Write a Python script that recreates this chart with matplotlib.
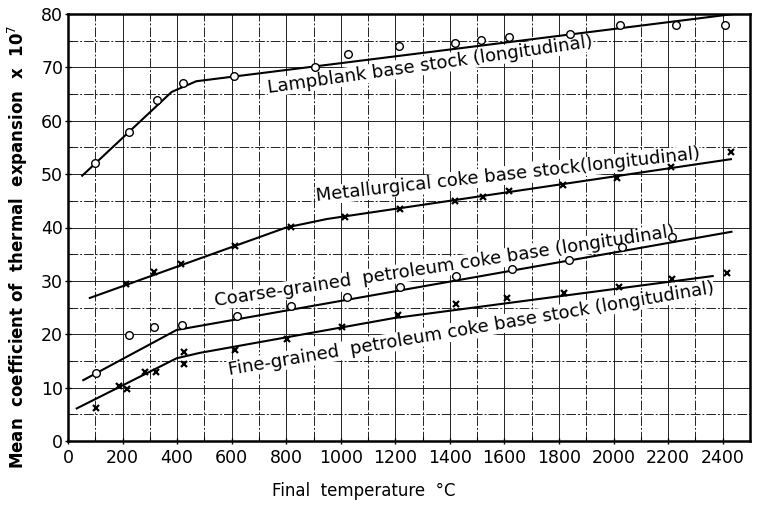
import numpy as np
import matplotlib
matplotlib.use('Agg')
import matplotlib.pyplot as plt
from matplotlib.ticker import MultipleLocator

# Lampblank base stock (circles)
lamp_x = [100, 225, 325, 420, 610, 905, 1025, 1215, 1420, 1515, 1615, 1840, 2025, 2230, 2410]
lamp_y = [52.0, 57.8, 63.8, 67.0, 68.3, 70.1, 72.5, 74.0, 74.6, 75.1, 75.7, 76.3, 77.9, 78.0, 77.9]
lamp_fit_x = [52, 380, 470, 2440]
lamp_fit_y = [49.7, 65.4, 67.4, 80.0]

# Metallurgical coke base stock (crosses)
met_x = [212, 316, 414, 614, 819, 1017, 1217, 1420, 1520, 1618, 1814, 2013, 2211, 2432]
met_y = [29.5, 31.6, 33.1, 36.6, 40.1, 42.0, 43.4, 45.0, 45.7, 46.9, 47.9, 49.2, 51.3, 54.2]
met_fit_x = [80, 800, 950, 2430]
met_fit_y = [26.8, 40.0, 41.6, 52.8]

# Coarse-grained petroleum coke base (circles)
coarse_x = [104, 222, 316, 417, 621, 819, 1023, 1217, 1422, 1627, 1836, 2032, 2215]
coarse_y = [12.7, 19.85, 21.3, 21.7, 23.4, 25.2, 27.0, 28.8, 31.0, 32.3, 34.0, 36.3, 38.3]
coarse_fit_x = [56, 398, 2432]
coarse_fit_y = [11.4, 20.8, 39.2]

# Fine-grained petroleum coke base stock (crosses)
fine_x = [104, 188, 215, 284, 324, 425, 425, 614, 804, 1005, 1211, 1422, 1609, 1820, 2018, 2215, 2414]
fine_y = [6.1, 10.3, 9.7, 13.0, 13.0, 16.7, 14.4, 17.0, 19.2, 21.4, 23.7, 25.7, 26.7, 27.7, 28.8, 30.3, 31.4]
fine_fit_x = [32, 398, 482, 1191, 2363]
fine_fit_y = [6.1, 15.5, 16.5, 23.0, 30.9]

fig = plt.figure(figsize=(7.74, 5.17), dpi=100)
ax = fig.add_axes([68/774, 1-441/517, (750-68)/774, (441-14)/517])

# graph paper grid
for gx in np.arange(100, 2500, 100):
    ls = '-' if gx % 200 == 0 else (0, (10, 2, 2, 2))
    ax.axvline(gx, color='#222222', lw=0.7, ls=ls, zorder=1)
for gy in np.arange(5, 80, 5):
    ls = '-' if gy % 10 == 0 else (0, (10, 2, 2, 2))
    ax.axhline(gy, color='#222222', lw=0.7, ls=ls, zorder=1)

# fitted curves
for fx, fy in [(lamp_fit_x, lamp_fit_y), (met_fit_x, met_fit_y),
               (coarse_fit_x, coarse_fit_y), (fine_fit_x, fine_fit_y)]:
    ax.plot(fx, fy, color='black', lw=1.5, zorder=3)

# measured points
ax.plot(lamp_x, lamp_y, 'o', ms=5.5, mfc='white', mec='black', mew=1.0, zorder=4)
ax.plot(coarse_x, coarse_y, 'o', ms=5.5, mfc='white', mec='black', mew=1.0, zorder=4)
ax.plot(met_x, met_y, 'x', ms=5, color='black', mew=1.6, zorder=4)
ax.plot(fine_x, fine_y, 'x', ms=5, color='black', mew=1.6, zorder=4)

# curve labels written along the curves (white box only knocks out the grid)
lab = dict(fontsize=13, ha='left', va='baseline', rotation_mode='anchor', zorder=2,
           bbox=dict(facecolor='white', edgecolor='none', pad=0.3))
ax.text(733, 65.2, 'Lampblank base stock (longitudinal)', rotation=8.1, **lab)
ax.text(910, 44.9, 'Metallurgical coke base stock(longitudinal)', rotation=6.3, **lab)
ax.text(540, 25.2, 'Coarse-grained  petroleum coke base (longitudinal)', rotation=8.6, **lab)
ax.text(590, 12.35, 'Fine-grained  petroleum coke base stock (longitudinal)', rotation=9.6, **lab)

ax.set_xlim(0, 2500)
ax.set_ylim(0, 80)
ax.set_xticks(np.arange(0, 2401, 200))
ax.set_yticks(np.arange(0, 81, 10))
ax.xaxis.set_minor_locator(MultipleLocator(100))
ax.yaxis.set_minor_locator(MultipleLocator(5))
ax.tick_params(axis='both', which='major', direction='inout', length=5, width=1, labelsize=12.5)
ax.tick_params(axis='both', which='minor', direction='in', length=3, width=0.8)
ax.tick_params(axis='y', pad=1)
for s in ax.spines.values():
    s.set_linewidth(1.8)

fig.text(18/774, 1-247/517, 'Mean  coefficient of  thermal  expansion  x  10$^7$',
         rotation=90, ha='center', va='center', fontsize=12, fontweight='bold')
fig.text(364/774, 1-491/517, 'Final  temperature  °C', ha='center', va='center', fontsize=12)

fig.savefig('out.png', dpi=100)
